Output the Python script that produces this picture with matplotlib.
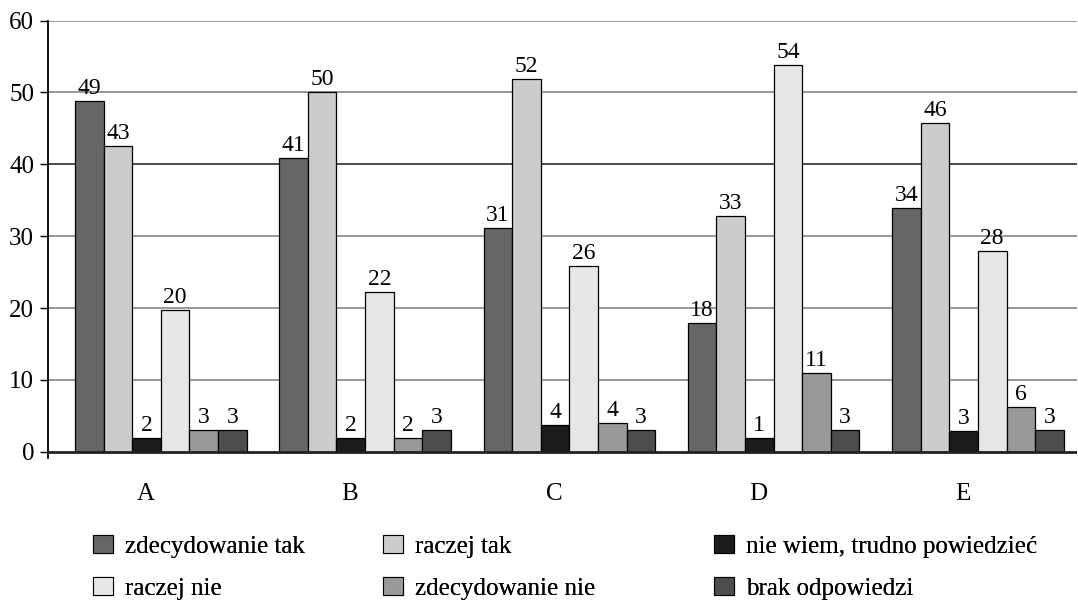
import matplotlib
matplotlib.use("Agg")
import matplotlib.pyplot as plt
import numpy as np
from matplotlib.patches import Patch

plt.rcParams["font.family"] = "serif"
plt.rcParams["font.serif"] = ["Liberation Serif", "Nimbus Roman", "Times New Roman", "DejaVu Serif"]

# data
categories = ["A", "B", "C", "D", "E"]
series = ["zdecydowanie tak", "raczej tak", "nie wiem, trudno powiedzieć",
          "raczej nie", "zdecydowanie nie", "brak odpowiedzi"]
# bar heights as drawn (labels are rounded)
zdecydowanie_tak = [48.8, 40.9, 31.1, 17.9, 33.9]
raczej_tak = [42.6, 50.0, 51.8, 32.8, 45.7]
nie_wiem = [1.9, 1.9, 3.7, 1.9, 2.9]
raczej_nie = [19.7, 22.2, 25.8, 53.8, 27.9]
zdecydowanie_nie = [3.0, 1.9, 4.0, 11.0, 6.3]
brak = [3.0, 3.0, 3.0, 3.0, 3.0]
# printed labels
lab_zt = [49, 41, 31, 18, 34]
lab_rt = [43, 50, 52, 33, 46]
lab_nw = [2, 2, 4, 1, 3]
lab_rn = [20, 22, 26, 54, 28]
lab_zn = [3, 2, 4, 11, 6]
lab_br = [3, 3, 3, 3, 3]

values = [zdecydowanie_tak, raczej_tak, nie_wiem, raczej_nie, zdecydowanie_nie, brak]
labels = [lab_zt, lab_rt, lab_nw, lab_rn, lab_zn, lab_br]
colors = ["#666666", "#cccccc", "#1c1c1c", "#e6e6e6", "#999999", "#4d4d4d"]

fig = plt.figure(figsize=(10.78, 6.01), dpi=100)
ax = fig.add_axes([48/1078, 143/601, 1029/1078, 437.5/601])

x = np.arange(len(categories))
w = 0.14
for j, (vals, labs, c) in enumerate(zip(values, labels, colors)):
    bars = ax.bar(x + (j - 2.5) * w, vals, w, color=c, edgecolor="black",
                  linewidth=0.9, zorder=3)
    ax.bar_label(bars, labels=[str(v) for v in labs], padding=1.5, fontsize=17)

# grid
for yv in range(10, 61, 10):
    ax.axhline(yv, color="#1a1a1a" if yv == 40 else "#7a7a7a", lw=1.1, zorder=1)
ax.axhline(0, color="#222222", lw=2, zorder=4)

ax.set_xlim(-0.552, 4.485)
ax.set_ylim(-0.85, 60)
ax.set_yticks(range(0, 61, 10))
ax.tick_params(axis="y", length=6, width=1, labelsize=18, pad=4)
ax.set_xticks(x - 0.075)
ax.set_xticklabels(categories, fontsize=18)
ax.tick_params(axis="x", length=0, pad=18)
for s in ["top", "right", "bottom"]:
    ax.spines[s].set_visible(False)
ax.spines["left"].set_linewidth(1.3)
ax.spines["left"].set_bounds(-0.85, 60)

# legend in three columns
handles = [Patch(facecolor=c, edgecolor="black", linewidth=0.8) for c in colors]
cols = [(0, 3), (1, 4), (2, 5)]
col_x = [93, 383, 714]
for (a, b), cx in zip(cols, col_x):
    lg = fig.legend([handles[a], handles[b]], [series[a], series[b]],
                    loc="upper left", bbox_to_anchor=(cx/1078, 1 - 535/601),
                    frameon=False, fontsize=18, handlelength=0.8,
                    handleheight=0.76, handletextpad=0.48, labelspacing=0.76,
                    borderpad=0, borderaxespad=0)
    fig.add_artist(lg)

fig.savefig("out.png", dpi=100)
